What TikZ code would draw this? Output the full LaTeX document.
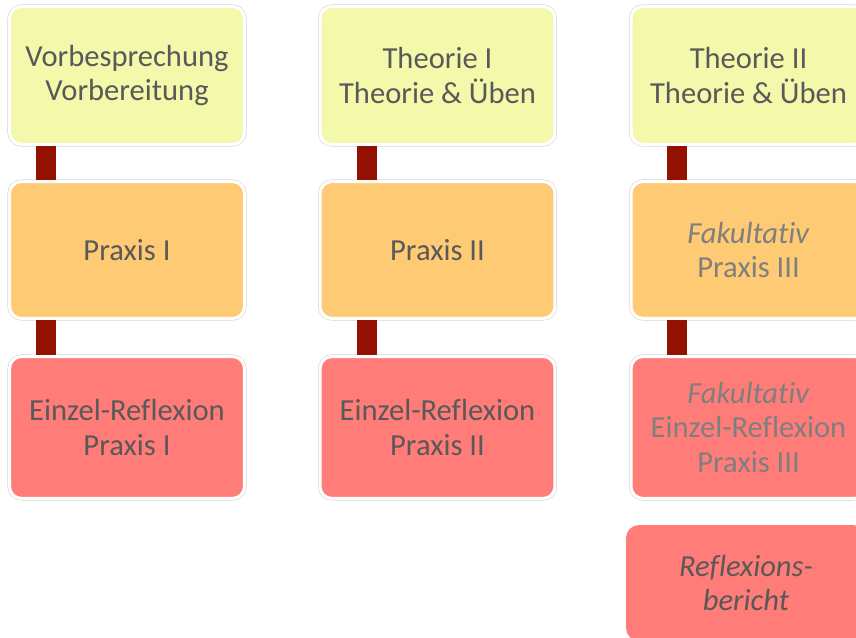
\documentclass[tikz,border=0pt]{standalone}
\usepackage{fontspec}
\setmainfont[Ligatures=NoCommon]{Carlito}
\begin{document}
\begin{tikzpicture}[x=0.02cm, y=-0.02cm, font=\fontsize{17.4}{19.6}\selectfont,
	box/.style={rounded corners=0.24cm, minimum width=4.7cm, inner sep=0pt, align=center,
		text=textgray, draw=white, line width=0.06cm, preaction={draw=black!16, line width=0.085cm}},
	link/.style={draw=linkred, line width=0.4cm}]
	% Define colors
	\definecolor{textgray}{RGB}{89,89,89}
	\definecolor{fadegray}{RGB}{127,127,127}
	\definecolor{theocolor}{RGB}{243,248,170}
	\definecolor{praxcolor}{RGB}{254,202,116}
	\definecolor{reflcolor}{RGB}{255,124,120}
	\definecolor{linkred}{RGB}{147,17,0}
	\clip (0,0) rectangle (856,638);
	% First row (Theorie)
	\node[box, fill=theocolor, minimum height=2.76cm] (vorb) at (127,75.5) {Vorbesprechung\\Vorbereitung};
	\node[box, fill=theocolor, minimum height=2.76cm] (theo1) at (437.5,75.5) {Theorie I\\Theorie \& Üben};
	\node[box, fill=theocolor, minimum height=2.76cm] (theo2) at (748.5,75.5) {Theorie II\\Theorie \& Üben};
	% Second row (Praxis)
	\node[box, fill=praxcolor, minimum height=2.74cm] (prax1) at (127,250) {Praxis I};
	\node[box, fill=praxcolor, minimum height=2.74cm] (prax2) at (437.5,250) {Praxis II};
	\node[box, fill=praxcolor, minimum height=2.74cm, text=fadegray] (prax3) at (748.5,250) {\textit{Fakultativ}\\Praxis III};
	% Third row (Reflexion)
	\node[box, fill=reflcolor, minimum height=2.84cm] (refl1) at (127,427.5) {Einzel-Reflexion\\Praxis I};
	\node[box, fill=reflcolor, minimum height=2.84cm] (refl2) at (437.5,427.5) {Einzel-Reflexion\\Praxis II};
	\node[box, fill=reflcolor, minimum height=2.84cm, text=fadegray] (refl3) at (748.5,427.5) {\textit{Fakultativ}\\Einzel-Reflexion\\Praxis III};
	% Reflexionsbericht
	\node[rounded corners=0.26cm, fill=reflcolor, text=textgray, align=center, inner sep=0pt,
		minimum width=4.8cm, minimum height=2.32cm] (bericht) at (746,583) {\textit{Reflexions-}\\\textit{bericht}};
	% Connectors
	\draw[link] ([xshift=-1.63cm]vorb.south) -- ([xshift=-1.63cm]prax1.north);
	\draw[link] ([xshift=-1.63cm]prax1.south) -- ([xshift=-1.63cm]refl1.north);
	\draw[link] ([xshift=-1.42cm]theo1.south) -- ([xshift=-1.42cm]prax2.north);
	\draw[link] ([xshift=-1.42cm]prax2.south) -- ([xshift=-1.42cm]refl2.north);
	\draw[link] ([xshift=-1.43cm]theo2.south) -- ([xshift=-1.43cm]prax3.north);
	\draw[link] ([xshift=-1.43cm]prax3.south) -- ([xshift=-1.43cm]refl3.north);
\end{tikzpicture}
\end{document}
